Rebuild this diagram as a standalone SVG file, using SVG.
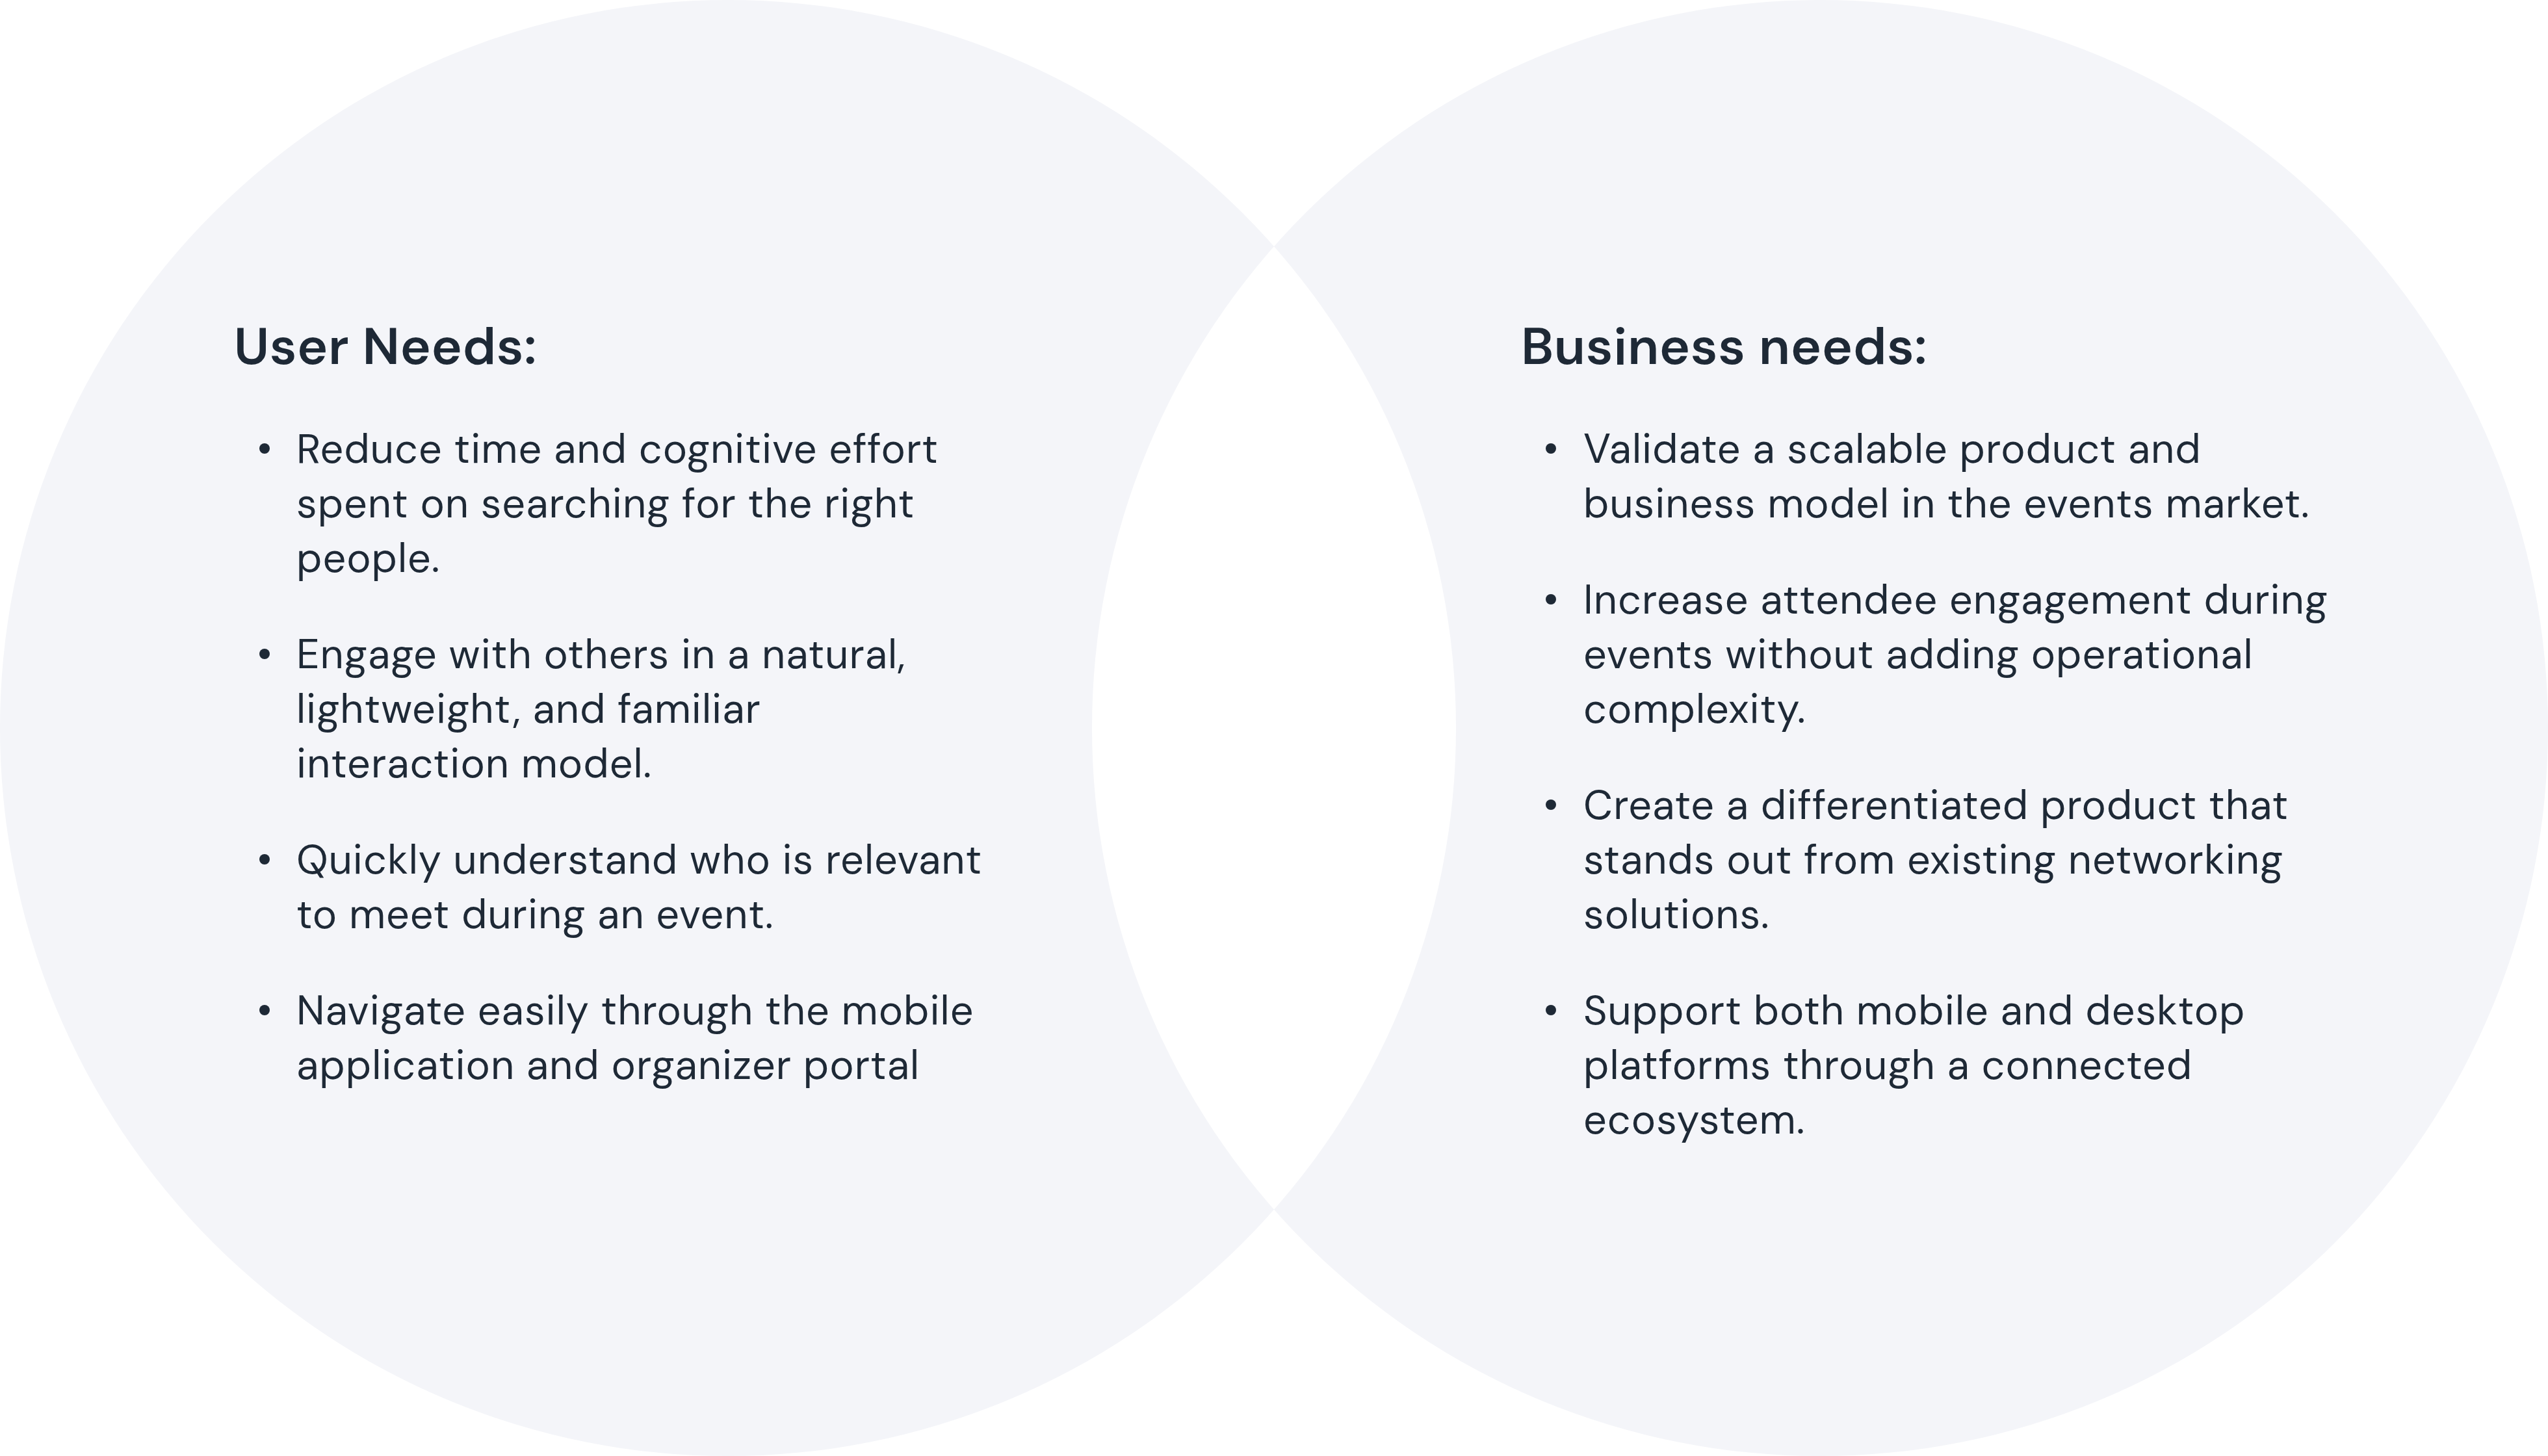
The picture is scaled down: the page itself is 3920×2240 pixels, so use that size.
<svg xmlns="http://www.w3.org/2000/svg" width="3920" height="2240" viewBox="0 0 3920 2240">
<style>
.t{font-family:"DM Sans",Inter,"Noto Sans",sans-serif;fill:#1e2936}
.h{font-size:80px;font-weight:600;letter-spacing:0.6px}
.b{font-size:63px;font-weight:400;letter-spacing:1px}
.c{fill:#f4f5f9}
.d{fill:#1e2936}
</style>
<defs>
<clipPath id="cl"><circle cx="1120" cy="1120" r="1120"/></clipPath>
</defs>
<rect x="0" y="0" width="3920" height="2240" rx="75" fill="#ffffff"/>
<g id="circle-user">
<circle class="c" cx="1120" cy="1120" r="1120"/>
</g>
<g id="circle-business">
<circle class="c" cx="2800" cy="1120" r="1120"/>
</g>
<g id="overlap">
<circle cx="2800" cy="1120" r="1120" fill="#ffffff" clip-path="url(#cl)"/>
</g>
<g id="user-needs">
<text class="t h" x="360" y="560">User Needs:</text>
<circle class="d" cx="407" cy="690" r="8"/>
<text class="t b" x="456" y="712">Reduce time and cognitive effort</text>
<text class="t b" x="456" y="796">spent on searching for the right</text>
<text class="t b" x="456" y="880">people.</text>
<circle class="d" cx="407" cy="1006" r="8"/>
<text class="t b" x="456" y="1028">Engage with others in a natural,</text>
<text class="t b" x="456" y="1112">lightweight, and familiar</text>
<text class="t b" x="456" y="1196">interaction model.</text>
<circle class="d" cx="407" cy="1322" r="8"/>
<text class="t b" x="456" y="1344">Quickly understand who is relevant</text>
<text class="t b" x="456" y="1428">to meet during an event.</text>
<circle class="d" cx="407" cy="1554" r="8"/>
<text class="t b" x="456" y="1576">Navigate easily through the mobile</text>
<text class="t b" x="456" y="1660">application and organizer portal</text>
</g>
<g id="business-needs">
<text class="t h" x="2340" y="560">Business needs:</text>
<circle class="d" cx="2386" cy="690" r="8"/>
<text class="t b" x="2436" y="712">Validate a scalable product and</text>
<text class="t b" x="2436" y="796">business model in the events market.</text>
<circle class="d" cx="2386" cy="922" r="8"/>
<text class="t b" x="2436" y="944">Increase attendee engagement during</text>
<text class="t b" x="2436" y="1028">events without adding operational</text>
<text class="t b" x="2436" y="1112">complexity.</text>
<circle class="d" cx="2386" cy="1238" r="8"/>
<text class="t b" x="2436" y="1260">Create a differentiated product that</text>
<text class="t b" x="2436" y="1344">stands out from existing networking</text>
<text class="t b" x="2436" y="1428">solutions.</text>
<circle class="d" cx="2386" cy="1554" r="8"/>
<text class="t b" x="2436" y="1576">Support both mobile and desktop</text>
<text class="t b" x="2436" y="1660">platforms through a connected</text>
<text class="t b" x="2436" y="1744">ecosystem.</text>
</g>
<g id="connectors"/>
</svg>
